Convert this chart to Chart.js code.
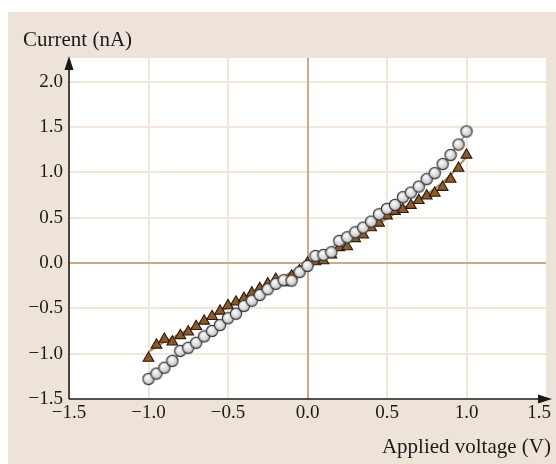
<!DOCTYPE html>
<html>
<head>
<meta charset="utf-8">
<script src="https://cdn.jsdelivr.net/npm/chart.js@4"></script>
<style>
html,body{margin:0;padding:0;background:#fff;}
#wrap{position:absolute;left:0;top:0;width:556px;height:464px;}
</style>
</head>
<body>
<div id="wrap"><canvas id="c" width="556" height="464"></canvas></div>
<script>
// ---- data ----
const voltage = [-1.0,-0.95,-0.9,-0.85,-0.8,-0.75,-0.7,-0.65,-0.6,-0.55,-0.5,-0.45,-0.4,-0.35,-0.3,-0.25,-0.2,-0.15,-0.1,-0.05,0.0,
  0.05,0.1,0.15,0.2,0.25,0.3,0.35,0.4,0.45,0.5,0.55,0.6,0.65,0.7,0.75,0.8,0.85,0.9,0.95,1.0];
const currentCircles = [-1.28,-1.22,-1.155,-1.08,-0.97,-0.935,-0.88,-0.81,-0.75,-0.685,-0.61,-0.56,-0.475,-0.416,-0.353,-0.29,-0.23,-0.19,-0.195,-0.1,-0.033,
  0.077,0.088,0.118,0.243,0.283,0.338,0.39,0.456,0.537,0.596,0.64,0.725,0.776,0.842,0.924,0.99,1.09,1.19,1.306,1.45];
const currentTriangles = [-1.05,-0.905,-0.84,-0.87,-0.80,-0.76,-0.70,-0.64,-0.59,-0.53,-0.47,-0.43,-0.39,-0.33,-0.28,-0.23,-0.18,-0.217,-0.143,-0.085,0.0,
  0.015,0.025,0.09,0.17,0.18,0.27,0.31,0.39,0.44,0.52,0.57,0.59,0.636,0.69,0.74,0.77,0.835,0.924,1.045,1.19];
const fitVoltage = [-1.0,-0.9,-0.8,-0.7,-0.6,-0.5,-0.4,-0.3,-0.2,-0.1,0.0,0.1,0.2,0.3,0.4,0.5,0.6,0.7,0.8,0.9,1.0];
const fitCircles = [-1.27,-1.15,-1.0,-0.87,-0.74,-0.61,-0.48,-0.36,-0.24,-0.12,-0.01,0.11,0.23,0.35,0.47,0.59,0.72,0.86,1.01,1.2,1.43];
const fitTriangles = [-0.98,-0.87,-0.78,-0.69,-0.59,-0.49,-0.39,-0.29,-0.19,-0.10,0.0,0.09,0.18,0.28,0.38,0.49,0.60,0.70,0.82,0.97,1.17];
const xTicks = [-1.5,-1.0,-0.5,0.0,0.5,1.0,1.5];
const yTicks = [-1.5,-1.0,-0.5,0.0,0.5,1.0,1.5,2.0];
const xTitle = 'Applied voltage (V)';
const yTitle = 'Current (nA)';

const pts = (xs, ys) => xs.map((x, i) => ({x: x, y: ys[i]}));
const fmt = v => { const s = Math.abs(v).toFixed(1); return v < 0 ? '\u2212' + s : s; };

// shaded circle marker
function makeCircle() {
  const s = 14, cv = document.createElement('canvas');
  cv.width = s; cv.height = s;
  const g = cv.getContext('2d');
  const gr = g.createRadialGradient(5.5, 5, 0.5, 7, 7, 6.5);
  gr.addColorStop(0, '#fbfbfb');
  gr.addColorStop(0.6, '#d6d6d6');
  gr.addColorStop(1, '#a2a2a2');
  g.beginPath(); g.arc(7, 7, 5.6, 0, Math.PI * 2);
  g.fillStyle = gr; g.fill();
  g.lineWidth = 1.2; g.strokeStyle = '#3a3a3a'; g.stroke();
  return cv;
}
const circleImg = makeCircle();

const BG = '#ede3d8';
const SERIF = "'Liberation Serif', 'DejaVu Serif', serif";

const bgPlugin = {
  id: 'bg',
  beforeDraw(chart) {
    const ctx = chart.ctx, a = chart.chartArea;
    ctx.save();
    ctx.fillStyle = '#ffffff'; ctx.fillRect(0, 0, chart.width, chart.height);
    ctx.fillStyle = BG; ctx.fillRect(8, 12, chart.width - 8, chart.height - 12);
    ctx.fillStyle = '#ffffff'; ctx.fillRect(a.left, a.top, a.right - a.left, a.bottom - a.top);
    ctx.restore();
  },
  beforeDatasetsDraw(chart) {
    const ctx = chart.ctx, a = chart.chartArea, xs = chart.scales.x, ys = chart.scales.y;
    ctx.save();
    // zero lines
    ctx.strokeStyle = '#c9ab8a'; ctx.lineWidth = 2;
    const x0 = Math.round(xs.getPixelForValue(0)), y0 = Math.round(ys.getPixelForValue(0));
    ctx.beginPath(); ctx.moveTo(x0, a.top); ctx.lineTo(x0, a.bottom); ctx.stroke();
    ctx.beginPath(); ctx.moveTo(a.left, y0); ctx.lineTo(a.right, y0); ctx.stroke();
    // axes with arrows
    ctx.strokeStyle = '#1a1a1a'; ctx.fillStyle = '#1a1a1a'; ctx.lineWidth = 1.6;
    ctx.beginPath(); ctx.moveTo(a.left, a.bottom); ctx.lineTo(a.left, a.top + 8); ctx.stroke();
    ctx.beginPath(); ctx.moveTo(a.left, a.bottom); ctx.lineTo(a.right, a.bottom); ctx.stroke();
    ctx.beginPath(); ctx.moveTo(a.left, a.top - 2); ctx.lineTo(a.left - 4.5, a.top + 12); ctx.lineTo(a.left + 4.5, a.top + 12); ctx.closePath(); ctx.fill();
    ctx.beginPath(); ctx.moveTo(a.right + 6, a.bottom); ctx.lineTo(a.right - 8, a.bottom - 4.5); ctx.lineTo(a.right - 8, a.bottom + 4.5); ctx.closePath(); ctx.fill();
    // x tick labels (last one kept inside the panel)
    ctx.font = '19px ' + SERIF;
    ctx.textBaseline = 'middle';
    xTicks.forEach((v, i) => {
      const px = xs.getPixelForValue(v);
      if (i === xTicks.length - 1) { ctx.textAlign = 'right'; ctx.fillText(fmt(v), Math.min(px + 12, 551), a.bottom + 14); }
      else { ctx.textAlign = 'center'; ctx.fillText(fmt(v), px, a.bottom + 14); }
    });
    // titles
    ctx.font = '21px ' + SERIF;
    ctx.textBaseline = 'alphabetic';
    ctx.textAlign = 'left'; ctx.fillText(yTitle, 23, 46);
    ctx.textAlign = 'right'; ctx.fillText(xTitle, 551, 453);
    ctx.restore();
  }
};

new Chart(document.getElementById('c'), {
  type: 'scatter',
  data: {
    datasets: [
      { label: 'fit circles', type: 'line', data: pts(fitVoltage, fitCircles), borderColor: '#c9a274', borderWidth: 2, pointRadius: 0, cubicInterpolationMode: 'monotone', fill: false, order: 4 },
      { label: 'fit triangles', type: 'line', data: pts(fitVoltage, fitTriangles), borderColor: '#b88a55', borderWidth: 2, pointRadius: 0, cubicInterpolationMode: 'monotone', fill: false, order: 3 },
      { label: 'triangles', data: pts(voltage, currentTriangles), pointStyle: 'triangle', pointRadius: 6.2, backgroundColor: '#8c5a2b', borderColor: '#2b1a0b', borderWidth: 1.1, order: 2 },
      { label: 'circles', data: pts(voltage, currentCircles), pointStyle: circleImg, pointRadius: 6, order: 1 }
    ]
  },
  options: {
    responsive: false,
    animation: false,
    devicePixelRatio: 1,
    layout: { padding: { left: 0, top: 58, right: 10, bottom: 0 } },
    plugins: { legend: { display: false }, tooltip: { enabled: false } },
    scales: {
      x: {
        type: 'linear', min: -1.5, max: 1.5,
        afterBuildTicks: s => { s.ticks = xTicks.map(v => ({value: v})); },
        afterFit: s => { s.height = 65; s.paddingLeft = 0; s.paddingRight = 0; },
        grid: { color: c => (c.tick && (c.tick.value === 0 || c.tick.value === -1.5 || c.tick.value === 1.5)) ? 'rgba(0,0,0,0)' : '#f1e6d9', lineWidth: 2, drawTicks: false },
        border: { display: false },
        ticks: { display: false }
      },
      y: {
        type: 'linear', min: -1.5, max: 2.26,
        afterBuildTicks: s => { s.ticks = yTicks.map(v => ({value: v})); },
        afterFit: s => { s.width = 69; s.paddingTop = 0; s.paddingBottom = 0; },
        grid: { color: c => (c.tick && (c.tick.value === 0 || c.tick.value === -1.5)) ? 'rgba(0,0,0,0)' : '#f1e6d9', lineWidth: 2, drawTicks: false },
        border: { display: false },
        ticks: { padding: 6, color: '#1a1a1a', font: { family: SERIF, size: 19 }, callback: v => fmt(v), autoSkip: false }
      }
    }
  },
  plugins: [bgPlugin]
});
</script>
</body>
</html>
